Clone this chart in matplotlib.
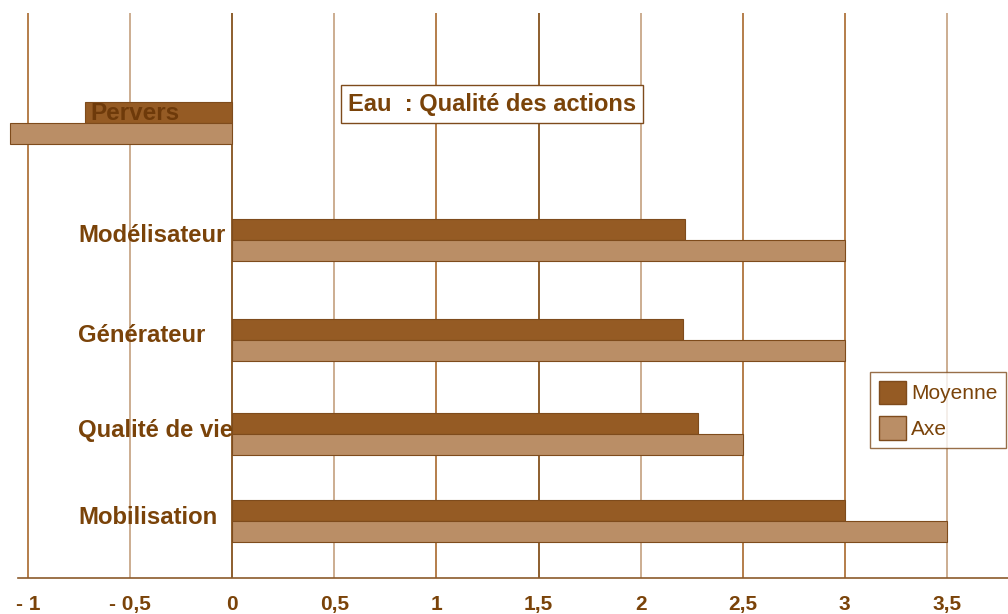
import matplotlib
matplotlib.use("Agg")
import matplotlib.pyplot as plt
from matplotlib.patches import Patch

plt.rcParams['font.family'] = ['Liberation Sans', 'DejaVu Sans']

categories = ['Pervers', 'Modélisateur', 'Générateur', 'Qualité de vie', 'Mobilisation']
moyenne = [-0.72, 2.22, 2.21, 2.28, 3.0]
axe = [-1.09, 3.0, 3.0, 2.5, 3.5]
tick_values = [-1, -0.5, 0, 0.5, 1, 1.5, 2, 2.5, 3, 3.5]
tick_labels = ['- 1', '- 0,5', '0', '0,5', '1', '1,5', '2', '2,5', '3', '3,5']

c_moy = '#955B24'
c_axe = '#BA8E66'
c_edge = '#7E4B1C'
c_text = '#7A4309'
grid_colors = {'dark': '#7A4309', 'mid': '#A8682C', 'light': '#C4A07E'}
grid_kind = ['mid', 'light', 'dark', 'light', 'mid', 'dark', 'light', 'mid', 'mid', 'light']

# vertical layout (axis units = pixels from top)
centers = [123, 240, 340, 434, 521]
bar_h = 21

fig = plt.figure(figsize=(10.08, 6.14), dpi=100)
ax = fig.add_axes([18 / 1008, 36 / 614, 990 / 1008, 578 / 614])
ax.set_xlim(-1.05, 3.8)
ax.set_ylim(578, 0)

for v, k in zip(tick_values, grid_kind):
    ax.vlines(v, 13, 578, color=grid_colors[k], lw=1.2, zorder=0)

ax.barh([c - bar_h / 2 for c in centers], moyenne, height=bar_h, color=c_moy,
        edgecolor=c_edge, lw=0.8, zorder=2)
ax.barh([c + bar_h / 2 for c in centers], axe, height=bar_h, color=c_axe,
        edgecolor=c_edge, lw=0.8, zorder=2, clip_on=False)

for i, (cat, c) in enumerate(zip(categories, centers)):
    if i == 0:
        ax.text(-0.695, c - bar_h / 2 + 1, cat, ha='left', va='center', fontsize=17.5,
                fontweight='bold', color='#6E3A0A', zorder=3)
    else:
        ax.text(-0.755, c - 4, cat, ha='left', va='center', fontsize=17.2,
                fontweight='bold', color=c_text, zorder=3)

ax.text(0.565, 104, 'Eau  : Qualité des actions', ha='left', va='center',
        fontsize=17, fontweight='bold', color=c_text, zorder=4,
        bbox=dict(boxstyle='square,pad=0.3', fc='white', ec=c_edge, lw=1))

handles = [Patch(facecolor=c_moy, edgecolor=c_edge, label='Moyenne'),
           Patch(facecolor=c_axe, edgecolor=c_edge, label='Axe')]
leg = ax.legend(handles=handles, loc='upper left', bbox_to_anchor=(0.861, 0.356),
                fontsize=15, frameon=True, fancybox=False, handlelength=1.3,
                handleheight=1.35, handletextpad=0.25, borderpad=0.4,
                borderaxespad=0, labelspacing=0.6)
leg.get_frame().set_edgecolor(c_edge)
leg.get_frame().set_linewidth(1)
for t in leg.get_texts():
    t.set_color(c_text)

ax.set_xticks(tick_values)
ax.set_xticklabels(tick_labels, fontsize=15, fontweight='bold', color=c_text)
ax.tick_params(axis='x', length=0, pad=12)
ax.set_yticks([])
for s in ['top', 'left', 'right']:
    ax.spines[s].set_visible(False)
ax.spines['bottom'].set_color('#8B5A2B')
ax.spines['bottom'].set_linewidth(1.2)

fig.savefig('out.png', dpi=100)
